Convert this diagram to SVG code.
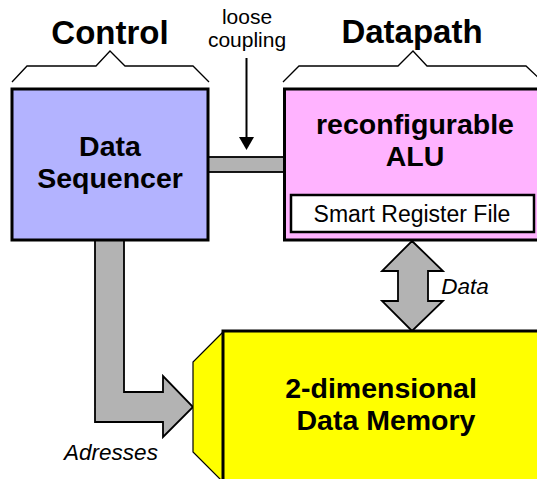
<svg xmlns="http://www.w3.org/2000/svg" width="537" height="479" viewBox="0 0 537 479">
<style>
text{font-family:"Liberation Sans",Arial,sans-serif;fill:#000;text-anchor:middle}
.title{font-size:33px;font-weight:bold}
.bold{font-size:28.5px;font-weight:bold}
.reg{font-size:21px}
.rf{font-size:23px}
.ital{font-size:22.5px;font-style:italic}
.box{stroke:#000;stroke-width:3}
.bus{fill:#B3B3B3;stroke:#000;stroke-width:1.8;stroke-linejoin:miter}
.brace{fill:none;stroke:#000;stroke-width:1.3}
</style>
<rect width="537" height="479" fill="#fff"/>
<g id="labels">
<text class="title" x="110" y="44">Control</text>
<text class="title" x="412" y="43">Datapath</text>
<polyline class="brace" points="12,82 27,66 96,66 110,51 125,66 193,66 209,82"/>
<polyline class="brace" points="283,82 299,66 398,66 413,51 427,66 526,66 542,81"/>
<text class="reg" x="247" y="24">loose</text>
<text class="reg" x="247" y="47">coupling</text>
</g>
<g id="connectors">
<rect class="bus" x="206" y="157" width="80" height="15"/>
<line x1="246.5" y1="58" x2="246.5" y2="138" stroke="#000" stroke-width="2"/>
<polygon points="239,137 254,137 246.5,150" fill="#000"/>
<polygon class="bus" points="95,238 124,238 124,392 163,392 163,376 193,407 163,437 163,422 95,422"/>
<polygon class="bus" points="412,241 443,271 428,271 428,301 443,301 412,331 382,301 398,301 398,271 382,271"/>
<text class="ital" x="465" y="294">Data</text>
<text class="ital" x="111" y="460">Adresses</text>
</g>
<g id="control">
<rect class="box" x="12" y="89" width="196" height="151" fill="#B3B3FF"/>
<text class="bold" x="110" y="156">Data</text>
<text class="bold" x="110" y="188">Sequencer</text>
</g>
<g id="alu">
<rect class="box" x="284.5" y="89" width="260" height="151" fill="#FFB3FF"/>
<text class="bold" x="415" y="134">reconfigurable</text>
<text class="bold" x="415" y="166">ALU</text>
<g id="regfile">
<rect x="291" y="195" width="243" height="37" fill="#fff" stroke="#000" stroke-width="2.5"/>
<text class="rf" x="412" y="222">Smart Register File</text>
</g>
</g>
<g id="memory">
<polygon points="223,332 193,362 193,452 223,482" fill="#FFFF00" stroke="#000" stroke-width="1.2"/>
<rect class="box" x="223" y="331" width="330" height="160" fill="#FFFF00"/>
<text class="bold" x="381" y="398">2-dimensional</text>
<text class="bold" x="386" y="430">Data Memory</text>
</g>
</svg>
